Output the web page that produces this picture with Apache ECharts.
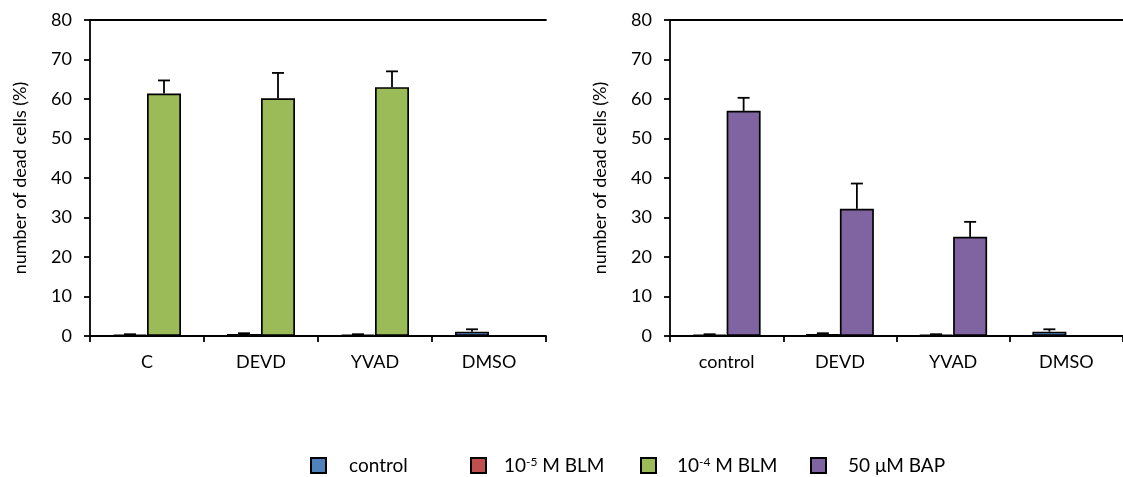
<!DOCTYPE html>
<html><head><meta charset="utf-8">
<script src="https://cdn.jsdelivr.net/npm/echarts@6/dist/echarts.min.js"></script>
<style>html,body{margin:0;padding:0;background:#fff}#c{width:1123px;height:477px}</style>
</head><body><div id="c"></div>
<script>
// ---- data ----
const leftCategories = ['C', 'DEVD', 'YVAD', 'DMSO'];
const rightCategories = ['control', 'DEVD', 'YVAD', 'DMSO'];
const yTicks = [0, 10, 20, 30, 40, 50, 60, 70, 80];
const seriesNames = ['control', '10-5 M BLM', '10-4 M BLM', '50 μM BAP'];
const legendLabels = ['control', '10{s|-5} M BLM', '10{s|-4} M BLM', '50 μM BAP'];

const leftControl = [null, null, null, 1.1];
const leftControlErr = [null, null, null, 0.6];
const leftBLM5 = [0.3, 0.5, 0.3, null];
const leftBLM5Err = [0.15, 0.2, 0.15, null];
const leftBLM4 = [61.4, 60.2, 63.0, null];
const leftBLM4Err = [3.3, 6.4, 4.0, null];

const rightControl = [null, null, null, 1.1];
const rightControlErr = [null, null, null, 0.6];
const rightBLM5 = [0.3, 0.5, 0.3, null];
const rightBLM5Err = [0.15, 0.2, 0.15, null];
const rightBAP = [57.0, 32.2, 25.1, null];
const rightBAPErr = [3.3, 6.4, 3.8, null];

// ---- styling ----
const colors = { control: '#4F81BD', blm5: '#C0504D', blm4: '#9BBB59', bap: '#8064A2' };
const FONT = 'Lato';
const BAR_W = 34;

function errData(vals, errs, base) {
  const out = [];
  vals.forEach((v, i) => {
    if (v != null && errs[i] != null) out.push([i, (base ? (base[i] || 0) : 0) + v, errs[i]]);
  });
  return out;
}
function errSeries(xi, data, slot) {
  return {
    type: 'custom', xAxisIndex: xi, yAxisIndex: xi === 0 ? 0 : 1, z: 10,
    silent: true,
    renderItem: function (params, api) {
      const p0 = api.coord([api.value(0), api.value(1)]);
      const p1 = api.coord([api.value(0), api.value(1) + api.value(2)]);
      const x = p0[0] + slot * BAR_W / 2;
      const st = { stroke: '#000', lineWidth: 1.8 };
      return { type: 'group', children: [
        { type: 'line', shape: { x1: x, y1: p0[1], x2: x, y2: p1[1] }, style: st },
        { type: 'line', shape: { x1: x - 6, y1: p1[1], x2: x + 6, y2: p1[1] }, style: st }
      ]};
    },
    data: data
  };
}
function barSeries(name, xi, data, color, stack) {
  const s = {
    name: name, type: 'bar', xAxisIndex: xi, yAxisIndex: xi === 0 ? 0 : 1,
    barWidth: BAR_W, barGap: '0%',
    itemStyle: { color: color, borderColor: '#000', borderWidth: 1.7 },
    data: data
  };
  if (stack) s.stack = stack;
  return s;
}
function xAxisBottom(gi, cats) {
  return {
    type: 'category', gridIndex: gi, data: cats, position: 'bottom',
    axisLine: { lineStyle: { color: '#000', width: 1.8 } },
    axisTick: { show: true, length: 6, lineStyle: { color: '#000', width: 1.8 } },
    axisLabel: { color: '#000', fontFamily: FONT, fontSize: 18, margin: 17 }
  };
}
function xAxisTop(gi, cats) {
  return {
    type: 'category', gridIndex: gi, data: cats, position: 'top',
    axisLine: { show: true, lineStyle: { color: '#000', width: 1.8 } },
    axisTick: { show: false }, axisLabel: { show: false }
  };
}
function yAxis(gi) {
  return {
    type: 'value', gridIndex: gi, min: yTicks[0], max: yTicks[yTicks.length - 1], interval: 10,
    name: 'number of dead cells (%)', nameLocation: 'middle', nameRotate: 90, nameGap: 61,
    nameTextStyle: { color: '#000', fontFamily: FONT, fontSize: 18 },
    axisLine: { show: true, lineStyle: { color: '#000', width: 1.8 } },
    axisTick: { show: true, length: 6, lineStyle: { color: '#000', width: 1.8 } },
    axisLabel: { color: '#000', fontFamily: FONT, fontSize: 18, margin: 18 },
    splitLine: { show: false }
  };
}
function legendItem(idx, color, left, pad) {
  return {
    left: left, top: 456, padding: 0, itemWidth: 15, itemHeight: 15, icon: 'rect',
    data: [seriesNames[idx]], selectedMode: false,
    formatter: function () { return legendLabels[idx]; },
    itemStyle: { color: color, borderColor: '#000', borderWidth: 2 },
    textStyle: { color: '#000', fontFamily: FONT, fontSize: 19, padding: [0, 0, 0, pad],
      rich: { s: { fontFamily: FONT, fontSize: 12, verticalAlign: 'top', color: '#000' } } }
  };
}

const chart = echarts.init(document.getElementById('c'));
chart.setOption({
  animation: false,
  grid: [
    { left: 90, top: 20, width: 456, height: 316 },
    { left: 670, top: 20, width: 456, height: 316 }
  ],
  xAxis: [
    xAxisBottom(0, leftCategories), xAxisBottom(1, rightCategories),
    xAxisTop(0, leftCategories), xAxisTop(1, rightCategories)
  ],
  yAxis: [yAxis(0), yAxis(1)],
  legend: [
    legendItem(0, colors.control, 310, 18),
    legendItem(1, colors.blm5, 470, 13),
    legendItem(2, colors.blm4, 640, 16),
    legendItem(3, colors.bap, 810, 17)
  ],
  series: [
    barSeries(seriesNames[0], 0, leftControl, colors.control, 'L'),
    barSeries(seriesNames[1], 0, leftBLM5, colors.blm5, 'L'),
    barSeries(seriesNames[2], 0, leftBLM4, colors.blm4),
    barSeries(seriesNames[0], 1, rightControl, colors.control, 'R'),
    barSeries(seriesNames[1], 1, rightBLM5, colors.blm5, 'R'),
    barSeries(seriesNames[3], 1, rightBAP, colors.bap),
    errSeries(0, errData(leftControl, leftControlErr), -1),
    errSeries(0, errData(leftBLM5, leftBLM5Err, leftControl), -1),
    errSeries(0, errData(leftBLM4, leftBLM4Err), 1),
    errSeries(1, errData(rightControl, rightControlErr), -1),
    errSeries(1, errData(rightBLM5, rightBLM5Err, rightControl), -1),
    errSeries(1, errData(rightBAP, rightBAPErr), 1)
  ]
});
</script></body></html>
